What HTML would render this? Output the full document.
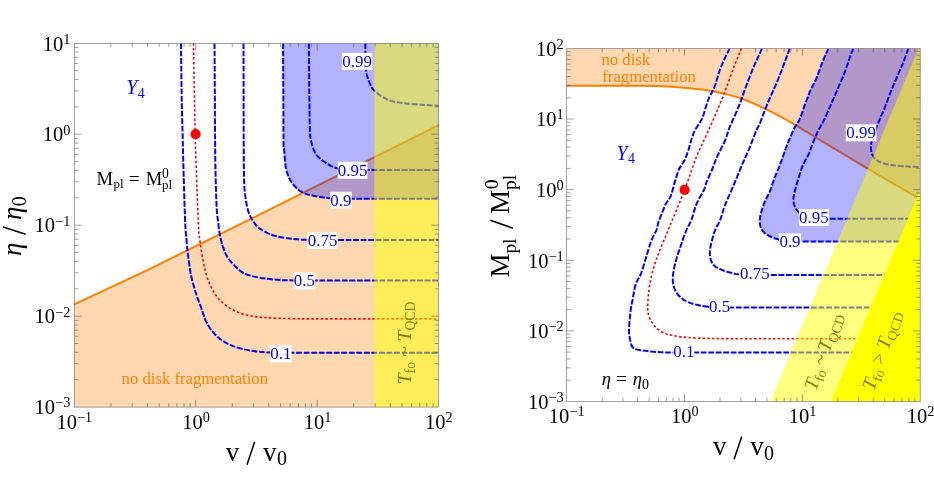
<!DOCTYPE html>
<html><head><meta charset="utf-8"><title>plot</title>
<style>html,body{margin:0;padding:0;background:#fff;}svg{display:block;will-change:transform;}text{font-family:"Liberation Serif",serif;}</style></head>
<body>
<svg width="934" height="487" viewBox="0 0 934 487" font-family="'Liberation Serif', serif" fill="#000">
<rect width="934" height="487" fill="#fff"/>
<clipPath id="cl"><rect x="74.3" y="43.3" width="364.3" height="363.8"/></clipPath>
<g clip-path="url(#cl)">
<path d="M74.3 304.4L150 268.8L260 214.3L438.6 125L438.6 407.1L74.3 407.1Z" fill="rgba(255,127,0,0.3)"/>
</g>
<path d="M73.8 304.6L150 268.8L260 214.3L439.1 124.8" fill="none" stroke="#ff7f00" stroke-width="2"/>
<g clip-path="url(#cl)">
<path d="M283.1 43.3C283.1 51.1 283.2 73.9 283.3 90C283.4 106.1 283.4 129.9 283.5 140C283.6 150.1 283.8 146 284.2 150.5C284.6 155 284.8 162.2 285.7 167C286.6 171.8 288.1 175.9 289.8 179.3C291.5 182.7 293.8 185.3 296 187.5C298.2 189.7 300.2 191.3 303.1 192.7C306 194.1 308.9 194.8 313.4 195.7C317.8 196.6 323.4 197.7 329.8 198.2C336.2 198.7 333.9 198.7 352 198.8C370.1 198.9 424.2 198.8 438.6 198.8L438.6 43.3Z" fill="rgba(0,0,255,0.3)"/>
<path d="M181 43.3C181.1 51.1 181.3 75.5 181.6 90C181.8 104.5 182.1 115 182.5 130C182.9 145 183.3 164.2 183.8 180C184.3 195.8 184.8 214.9 185.3 225C185.8 235.1 186.2 235.5 186.6 240.5C187 245.5 187.2 249.1 188 254.9C188.8 260.7 189.7 269 191.1 275.5C192.5 282 194.5 288.5 196.2 294C197.9 299.5 199.8 303.9 201.4 308.3C203 312.7 203.8 316.6 205.5 320.3C207.2 324 209.2 327.4 211.6 330.5C214 333.6 216.7 336.4 219.8 338.8C222.9 341.2 226.3 343.2 230.1 344.9C233.9 346.6 237.9 347.9 242.4 349C246.9 350.1 252.2 350.9 256.8 351.5C261.4 352.1 263 352.4 270.2 352.6C277.4 352.8 271.9 352.7 300 352.7C328.1 352.7 415.5 352.7 438.6 352.7" fill="none" stroke="#0000ff" stroke-width="2.0" stroke-dasharray="5.8 1.7"/>
<path d="M214.5 43.3C214.6 51.1 214.7 73.9 214.8 90C214.9 106.1 214.9 125 215.1 140C215.2 155 215.4 168.3 215.7 180C216 191.7 216.4 203 216.8 210C217.2 217 217.7 217.9 218.2 222C218.7 226.1 219 230.3 219.8 234.4C220.6 238.5 221.5 242.8 222.9 246.7C224.3 250.6 225.5 254.2 228.1 258C230.7 261.8 234.9 266.4 238.3 269.3C241.7 272.2 244.2 273.6 248.6 275.1C253 276.6 259.5 277.7 265 278.5C270.5 279.3 276.7 279.8 281.5 280.1C286.3 280.4 285.7 280.3 293.8 280.4C301.9 280.4 305.9 280.4 330 280.4C354.1 280.4 420.5 280.4 438.6 280.4" fill="none" stroke="#0000ff" stroke-width="2.0" stroke-dasharray="5.8 1.7"/>
<path d="M243.5 43.3C243.5 51.1 243.6 73.9 243.6 90C243.6 106.1 243.6 125 243.7 140C243.8 155 243.8 170.4 244.1 180C244.4 189.6 244.8 192.4 245.5 197.8C246.2 203.2 247.4 208.4 248.6 212.2C249.8 216 251.3 218.1 252.7 220.4C254.1 222.7 255.2 224.5 256.8 226.1C258.4 227.7 259.2 228.4 262 230C264.8 231.6 268.7 234 273.3 235.4C277.9 236.8 283.9 237.8 289.7 238.5C295.4 239.2 299.4 239.6 307.8 239.9C316.2 240.2 318.2 240.1 340 240.1C361.8 240.1 422.2 240.1 438.6 240.1" fill="none" stroke="#0000ff" stroke-width="2.0" stroke-dasharray="5.8 1.7"/>
<path d="M283.1 43.3C283.1 51.1 283.2 73.9 283.3 90C283.4 106.1 283.4 129.9 283.5 140C283.6 150.1 283.8 146 284.2 150.5C284.6 155 284.8 162.2 285.7 167C286.6 171.8 288.1 175.9 289.8 179.3C291.5 182.7 293.8 185.3 296 187.5C298.2 189.7 300.2 191.3 303.1 192.7C306 194.1 308.9 194.8 313.4 195.7C317.8 196.6 323.4 197.7 329.8 198.2C336.2 198.7 333.9 198.7 352 198.8C370.1 198.9 424.2 198.8 438.6 198.8" fill="none" stroke="#0000ff" stroke-width="2.0" stroke-dasharray="5.8 1.7"/>
<path d="M308.8 43.3C308.9 51.1 309.1 75.5 309.3 90C309.5 104.5 309.5 121.3 309.9 130C310.2 138.7 310.5 138.4 311.4 142.3C312.3 146.2 313.8 150.7 315.5 153.6C317.2 156.5 319.2 157.9 321.6 159.8C324 161.8 327.1 163.8 329.8 165.3C332.5 166.8 335 167.8 338 168.6C341 169.4 342.7 169.8 348 170.1C353.3 170.3 354.9 170.1 370 170.1C385.1 170.1 427.2 170.1 438.6 170.1" fill="none" stroke="#0000ff" stroke-width="2.0" stroke-dasharray="5.8 1.7"/>
<path d="M365.4 43.3C365.4 46.1 365.4 55.2 365.5 60C365.6 64.8 365.6 68.5 366.2 72C366.8 75.5 367.6 78 368.9 81.1C370.2 84.1 370.9 87.2 374 90.3C377.1 93.4 382.4 97.4 387.4 99.6C392.4 101.8 397.6 102.4 403.8 103.3C410 104.2 418.5 104.5 424.3 104.9C430.1 105.3 436.2 105.6 438.6 105.7" fill="none" stroke="#0000ff" stroke-width="2.0" stroke-dasharray="5.8 1.7"/>
<path d="M193.5 43.3C193.6 51.1 194 74.9 194.3 90C194.6 105.1 194.8 117.3 195.2 134C195.6 150.7 196.4 174 197 190C197.6 206 198.3 222 198.7 230C199.1 238 199.1 234.5 199.6 238C200.1 241.5 200.4 245.2 201.4 250.8C202.4 256.4 203.8 265.2 205.5 271.4C207.2 277.6 209.2 283 211.6 287.8C214 292.6 216.4 296.5 219.8 300.1C223.2 303.7 227.8 306.9 232.2 309.4C236.6 311.9 241 313.5 246.5 314.9C252 316.3 257.1 317 265 317.6C272.9 318.2 283 318.5 293.8 318.7C304.6 318.9 305.9 318.9 330 318.9C354.1 318.9 420.5 318.9 438.6 318.9" fill="none" stroke="#ff0000" stroke-width="1.6" stroke-dasharray="2.5 2.2"/>
<rect x="269.9" y="345.4" width="21.7" height="16.9" fill="#fff"/>
<text x="280.8" y="359.2" font-size="16.9" fill="#0000ff" text-anchor="middle">0.1</text>
<rect x="293.6" y="272.5" width="21.6" height="16.9" fill="#fff"/>
<text x="304.4" y="286.3" font-size="16.9" fill="#0000ff" text-anchor="middle">0.5</text>
<rect x="307.6" y="232" width="30" height="16.9" fill="#fff"/>
<text x="322.6" y="245.8" font-size="16.9" fill="#0000ff" text-anchor="middle">0.75</text>
<rect x="330.2" y="191.7" width="21.5" height="16.9" fill="#fff"/>
<text x="340.9" y="205.5" font-size="16.9" fill="#0000ff" text-anchor="middle">0.9</text>
<rect x="337.7" y="161.8" width="29.8" height="16.9" fill="#fff"/>
<text x="352.6" y="175.6" font-size="16.9" fill="#0000ff" text-anchor="middle">0.95</text>
<rect x="341.9" y="52.9" width="30.4" height="16.9" fill="#fff"/>
<text x="357.1" y="66.7" font-size="16.9" fill="#0000ff" text-anchor="middle">0.99</text>
<circle cx="195.6" cy="134.2" r="5.1" fill="#ff0000"/>
<rect x="374.3" y="43.3" width="63.5" height="363.8" fill="rgba(255,255,0,0.5)"/>
</g>
<path d="M110.9 407.1v-3.9M110.9 43.3v3.9M132.2 407.1v-3.9M132.2 43.3v3.9M147.4 407.1v-3.9M147.4 43.3v3.9M159.2 407.1v-3.9M159.2 43.3v3.9M168.8 407.1v-3.9M168.8 43.3v3.9M176.9 407.1v-3.9M176.9 43.3v3.9M184 407.1v-3.9M184 43.3v3.9M190.2 407.1v-3.9M190.2 43.3v3.9M195.7 407.1v-7.3M195.7 43.3v7.3M232.3 407.1v-3.9M232.3 43.3v3.9M253.7 407.1v-3.9M253.7 43.3v3.9M268.8 407.1v-3.9M268.8 43.3v3.9M280.6 407.1v-3.9M280.6 43.3v3.9M290.2 407.1v-3.9M290.2 43.3v3.9M298.4 407.1v-3.9M298.4 43.3v3.9M305.4 407.1v-3.9M305.4 43.3v3.9M311.6 407.1v-3.9M311.6 43.3v3.9M317.2 407.1v-7.3M317.2 43.3v7.3M353.7 407.1v-3.9M353.7 43.3v3.9M375.1 407.1v-3.9M375.1 43.3v3.9M390.3 407.1v-3.9M390.3 43.3v3.9M402 407.1v-3.9M402 43.3v3.9M411.7 407.1v-3.9M411.7 43.3v3.9M419.8 407.1v-3.9M419.8 43.3v3.9M426.8 407.1v-3.9M426.8 43.3v3.9M433 407.1v-3.9M433 43.3v3.9M74.3 379.7h3.9M438.6 379.7h-3.9M74.3 363.7h3.9M438.6 363.7h-3.9M74.3 352.3h3.9M438.6 352.3h-3.9M74.3 343.5h3.9M438.6 343.5h-3.9M74.3 336.3h3.9M438.6 336.3h-3.9M74.3 330.2h3.9M438.6 330.2h-3.9M74.3 325h3.9M438.6 325h-3.9M74.3 320.3h3.9M438.6 320.3h-3.9M74.3 316.2h7.3M438.6 316.2h-7.3M74.3 288.8h3.9M438.6 288.8h-3.9M74.3 272.8h3.9M438.6 272.8h-3.9M74.3 261.4h3.9M438.6 261.4h-3.9M74.3 252.6h3.9M438.6 252.6h-3.9M74.3 245.4h3.9M438.6 245.4h-3.9M74.3 239.3h3.9M438.6 239.3h-3.9M74.3 234h3.9M438.6 234h-3.9M74.3 229.4h3.9M438.6 229.4h-3.9M74.3 225.2h7.3M438.6 225.2h-7.3M74.3 197.8h3.9M438.6 197.8h-3.9M74.3 181.8h3.9M438.6 181.8h-3.9M74.3 170.4h3.9M438.6 170.4h-3.9M74.3 161.6h3.9M438.6 161.6h-3.9M74.3 154.4h3.9M438.6 154.4h-3.9M74.3 148.3h3.9M438.6 148.3h-3.9M74.3 143.1h3.9M438.6 143.1h-3.9M74.3 138.4h3.9M438.6 138.4h-3.9M74.3 134.2h7.3M438.6 134.2h-7.3M74.3 106.9h3.9M438.6 106.9h-3.9M74.3 90.9h3.9M438.6 90.9h-3.9M74.3 79.5h3.9M438.6 79.5h-3.9M74.3 70.7h3.9M438.6 70.7h-3.9M74.3 63.5h3.9M438.6 63.5h-3.9M74.3 57.4h3.9M438.6 57.4h-3.9M74.3 52.1h3.9M438.6 52.1h-3.9M74.3 47.5h3.9M438.6 47.5h-3.9" fill="none" stroke="#505050" stroke-width="0.55"/>
<rect x="74.3" y="43.3" width="364.3" height="363.8" fill="none" stroke="#707070" stroke-width="0.65"/>
<text x="74.3" y="428.7" text-anchor="middle" font-size="20.5">10<tspan font-size="14.3" dy="-6.9">−1</tspan></text>
<text x="196" y="428.7" text-anchor="middle" font-size="20.5">10<tspan font-size="14.3" dy="-6.9">0</tspan></text>
<text x="317.5" y="428.7" text-anchor="middle" font-size="20.5">10<tspan font-size="14.3" dy="-6.9">1</tspan></text>
<text x="438.9" y="428.7" text-anchor="middle" font-size="20.5">10<tspan font-size="14.3" dy="-6.9">2</tspan></text>
<text x="70.3" y="414.3" text-anchor="end" font-size="20.5">10<tspan font-size="14.3" dy="-6.9">−3</tspan></text>
<text x="70.3" y="323.4" text-anchor="end" font-size="20.5">10<tspan font-size="14.3" dy="-6.9">−2</tspan></text>
<text x="70.3" y="232.4" text-anchor="end" font-size="20.5">10<tspan font-size="14.3" dy="-6.9">−1</tspan></text>
<text x="70.3" y="141.4" text-anchor="end" font-size="20.5">10<tspan font-size="14.3" dy="-6.9">0</tspan></text>
<text x="70.3" y="50.5" text-anchor="end" font-size="20.5">10<tspan font-size="14.3" dy="-6.9">1</tspan></text>
<text x="126.2" y="94.4" font-size="20" font-style="italic" fill="#0000ff">Y<tspan font-size="14" font-style="normal" dy="3.3" dx="0.5">4</tspan></text>
<text y="184.9" font-size="18.6"><tspan x="96.5">M</tspan><tspan x="113.5" font-size="13" dy="3.5">pl</tspan><tspan x="128.8" dy="-3.5" font-size="19.5">=</tspan><tspan x="145.7">M</tspan><tspan x="162.1" font-size="13" dy="4.4">pl</tspan></text>
<text x="162.0" y="177.7" font-size="13.6">0</text>
<text x="121.6" y="384" font-size="16.7" fill="#ff7f00">no disk fragmentation</text>
<text transform="translate(411.4 384.2) rotate(-90)" font-size="19.6" font-style="italic" fill="#858000">T<tspan font-size="13.7" font-style="normal" dy="3.6">fo</tspan><tspan dy="-3.6"> ~ T</tspan><tspan font-size="13.7" font-style="normal" dy="3.6">QCD</tspan></text>
<text x="225.8" y="460.5" font-size="27">v</text>
<path d="M247 464.8L254.6 441.9" stroke="#000" stroke-width="1.5" fill="none"/>
<text x="263.1" y="460.5" font-size="27">v<tspan font-size="20" dy="4.6" dx="0.3">0</tspan></text>
<g transform="translate(21.4 225.6) rotate(-90)">
<text x="-30.4" y="0" font-size="27" font-style="italic">η</text>
<path d="M-8.6 4.3L-1.4 -18.3" stroke="#000" stroke-width="1.5" fill="none"/>
<text x="5.6" y="0" font-size="27" font-style="italic">η<tspan font-size="20" font-style="normal" dy="4.6" dx="0.3">0</tspan></text>
</g>
<clipPath id="cr"><rect x="566.7" y="48.4" width="353.5" height="353.1"/></clipPath>
<g clip-path="url(#cr)">
<path d="M566.2 85.7C573.5 85.7 597.7 85.7 610 85.7C622.3 85.7 630.4 85.7 640 85.8C649.6 85.9 659.7 86 667.5 86.4C675.3 86.8 680.5 87.4 686.7 88C693 88.6 698.8 89.1 705 90C711.2 90.9 717.5 92.1 723.7 93.6C729.9 95.1 735.4 96.3 742.2 98.8C749.1 101.3 757.9 105.4 764.8 108.6C771.6 111.8 777.4 114.9 783.3 118.1C789.2 121.3 794.7 124.6 800 127.8C805.3 130.9 808.3 133 815 137C821.7 141 831.3 146.8 840 152C848.7 157.2 858.1 162.9 867.3 168.3C876.5 173.7 886.1 179.4 895 184.6C903.9 189.8 916.4 197 920.7 199.5L921.2 48.4L565.7 48.4Z" fill="rgba(255,127,0,0.3)"/>
<path d="M566.2 85.7C573.5 85.7 597.7 85.7 610 85.7C622.3 85.7 630.4 85.7 640 85.8C649.6 85.9 659.7 86 667.5 86.4C675.3 86.8 680.5 87.4 686.7 88C693 88.6 698.8 89.1 705 90C711.2 90.9 717.5 92.1 723.7 93.6C729.9 95.1 735.4 96.3 742.2 98.8C749.1 101.3 757.9 105.4 764.8 108.6C771.6 111.8 777.4 114.9 783.3 118.1C789.2 121.3 794.7 124.6 800 127.8C805.3 130.9 808.3 133 815 137C821.7 141 831.3 146.8 840 152C848.7 157.2 858.1 162.9 867.3 168.3C876.5 173.7 886.1 179.4 895 184.6C903.9 189.8 916.4 197 920.7 199.5" fill="none" stroke="#ff7f00" stroke-width="2"/>
<path d="M828.5 48.4C827.5 50.6 824.7 56.6 822.7 61.5C820.7 66.4 818.6 73 816.5 78C814.4 83 812 86.6 810 91.4C808 96.2 805.9 102 804.2 106.7C802.5 111.4 801.2 116 799.6 119.5C798 123 796.1 124.7 794.5 127.8C792.9 130.9 791.2 135.2 790 138C788.8 140.8 788.5 141.1 787.2 144.6C785.9 148.1 783.4 155.3 782 159C780.6 162.7 780.4 163.6 779.1 167C777.8 170.4 775.5 175.2 774 179.3C772.5 183.4 771.3 187.8 769.8 191.6C768.2 195.4 766.1 198.5 764.7 201.9C763.3 205.3 762 209.2 761.2 212.2C760.4 215.2 759.9 217.5 759.8 220C759.7 222.5 759.8 224.9 760.6 227C761.4 229.1 762.7 231.1 764.5 232.8C766.3 234.5 768.8 235.9 771.2 237C773.6 238.1 775.8 238.9 778.9 239.6C782 240.3 785.6 240.9 790 241.2C794.4 241.5 783.3 241.4 805 241.4C826.7 241.4 901 241.4 920.2 241.4L920.2 48.4Z" fill="rgba(0,0,255,0.3)"/>
<path d="M729.8 48.4C729.1 49.7 727.4 52.7 725.7 56.4C724 60.1 721.5 65.7 719.6 70.8C717.7 75.9 716.3 82.4 714.4 87.2C712.5 92 710.2 94.8 708.3 99.6C706.4 104.4 704.5 112.2 703.1 116C701.7 119.8 701.5 119.8 700.1 122.2C698.7 124.6 696.3 127.6 694.9 130.4C693.5 133.2 692.7 135.7 691.6 139C690.5 142.3 689.5 146.9 688.3 150.5C687.1 154.1 685.7 157.7 684.2 160.8C682.7 163.9 680.6 165.6 679.1 169C677.6 172.4 676.4 177 675 181.4C673.6 185.8 672.4 191.9 670.9 195.7C669.4 199.5 667.2 200.9 665.7 204C664.2 207.1 662.8 211.2 661.6 214.2C660.4 217.2 659.4 219.4 658.5 222C657.6 224.6 657.7 226.9 656.5 230C655.3 233.1 653.1 236 651.4 240.5C649.7 245 647.9 251.5 646.2 257C644.5 262.5 642.8 268.9 641.1 273.4C639.4 277.8 637.3 279.6 635.9 283.7C634.5 287.8 633.8 293.2 632.9 298C632 302.8 631 306.9 630.4 312.4C629.8 317.9 629 326.2 629 330.8C629 335.4 629.6 337.2 630.2 340C630.9 342.8 631.1 345.9 632.9 347.6C634.7 349.3 637 349.6 641.1 350.3C645.2 351 652.1 351.6 657.5 352C662.9 352.4 666.2 352.5 673.3 352.6C680.4 352.7 658.9 352.6 700 352.6C741.1 352.6 883.5 352.6 920.2 352.6" fill="none" stroke="#0000ff" stroke-width="2.0" stroke-dasharray="5.8 1.7"/>
<path d="M762.1 48.4C761.2 50.4 758.5 56.1 756.5 60.5C754.5 64.9 752.4 69.8 750.4 74.9C748.4 80.1 746.1 86.3 744.2 91.4C742.3 96.5 741.2 100.6 739.1 105.7C737 110.8 733.6 118.2 731.9 122.2C730.1 126.2 729.7 127 728.6 130C727.5 133 727.2 135.6 725.3 140C723.4 144.4 719.3 151.9 717.1 156.7C714.9 161.5 714 164.9 712.3 169C710.6 173.1 708.2 178 706.8 181.4C705.4 184.8 705.8 185.8 704.1 189.6C702.4 193.4 698.6 198.9 696.5 204C694.4 209.1 693.1 215.6 691.4 220C689.7 224.4 688 226.2 686.3 230.3C684.6 234.4 682.6 240.2 681.1 244.7C679.6 249.1 678.3 252.6 677 257C675.7 261.4 674.2 267.3 673.5 271.4C672.8 275.5 672.6 278.5 672.9 281.6C673.1 284.7 673.8 287.2 675 289.8C676.2 292.4 677.9 294.9 680.1 297C682.3 299.1 685.2 300.8 688.3 302.2C691.4 303.6 695.1 304.4 698.6 305.2C702.1 306 704.3 306.4 709.5 306.8C714.7 307.2 694.9 307.3 730 307.4C765.1 307.5 888.5 307.4 920.2 307.4" fill="none" stroke="#0000ff" stroke-width="2.0" stroke-dasharray="5.8 1.7"/>
<path d="M789.8 48.4C789 50.4 787.1 55.7 785.3 60.5C783.5 65.3 781.3 71.5 779.1 77C776.9 82.5 774.2 88.3 772 93.4C769.8 98.5 767.9 102.7 765.8 107.8C763.7 112.9 761.1 120.5 759.6 124.2C758.1 127.9 758.2 126 756.5 130C754.8 134.1 751.4 143.4 749.3 148.5C747.2 153.6 745.2 157.7 743.8 160.8C742.4 163.9 742.8 162.9 741.1 167C739.4 171.1 736.2 179 733.5 185.5C730.8 192 726.9 200.2 724.7 206C722.5 211.8 721.8 215.9 720.2 220C718.6 224.1 716.4 226.9 715 230.3C713.6 233.7 712.9 237.1 712 240.5C711.1 243.9 710.1 247.5 709.9 250.8C709.7 254.1 710 257.5 710.9 260.1C711.8 262.7 712.9 264.5 715 266.2C717.1 267.9 720.2 269.3 723.3 270.5C726.4 271.7 730.6 272.7 733.5 273.4C736.4 274.1 734.6 274.2 740.7 274.5C746.8 274.8 740.1 274.8 770 274.9C799.9 275 895.2 274.9 920.2 274.9" fill="none" stroke="#0000ff" stroke-width="2.0" stroke-dasharray="5.8 1.7"/>
<path d="M828.5 48.4C827.5 50.6 824.7 56.6 822.7 61.5C820.7 66.4 818.6 73 816.5 78C814.4 83 812 86.6 810 91.4C808 96.2 805.9 102 804.2 106.7C802.5 111.4 801.2 116 799.6 119.5C798 123 796.1 124.7 794.5 127.8C792.9 130.9 791.2 135.2 790 138C788.8 140.8 788.5 141.1 787.2 144.6C785.9 148.1 783.4 155.3 782 159C780.6 162.7 780.4 163.6 779.1 167C777.8 170.4 775.5 175.2 774 179.3C772.5 183.4 771.3 187.8 769.8 191.6C768.2 195.4 766.1 198.5 764.7 201.9C763.3 205.3 762 209.2 761.2 212.2C760.4 215.2 759.9 217.5 759.8 220C759.7 222.5 759.8 224.9 760.6 227C761.4 229.1 762.7 231.1 764.5 232.8C766.3 234.5 768.8 235.9 771.2 237C773.6 238.1 775.8 238.9 778.9 239.6C782 240.3 785.6 240.9 790 241.2C794.4 241.5 783.3 241.4 805 241.4C826.7 241.4 901 241.4 920.2 241.4" fill="none" stroke="#0000ff" stroke-width="2.0" stroke-dasharray="5.8 1.7"/>
<path d="M853.3 48.4C852.5 50.4 850.4 56 848.8 60.5C847.2 65 845.4 70.7 843.5 75.5C841.6 80.3 839.5 84.6 837.5 89.3C835.5 94 833.5 98.6 831.3 103.7C829.1 108.8 826.2 115.7 824.1 120.1C822 124.5 820.3 126.4 818.5 130C816.7 133.6 815.1 137.5 813.5 141.5C811.9 145.5 810.6 149.7 808.8 153.8C807 157.9 804.3 161.9 802.6 166C800.9 170.1 799.8 174.2 798.5 178.3C797.2 182.4 795.9 186.9 795 190.5C794.1 194.1 793.4 197.2 793.4 200C793.4 202.8 794.2 205.5 795.2 207.6C796.2 209.7 797.5 211.3 799.3 212.8C801.1 214.3 803.2 215.8 806 216.8C808.8 217.8 812 218.3 816 218.6C820 218.9 812.6 218.7 830 218.7C847.4 218.7 905.2 218.7 920.2 218.7" fill="none" stroke="#0000ff" stroke-width="2.0" stroke-dasharray="5.8 1.7"/>
<path d="M908.3 48.4C907.4 50.8 905.1 57.8 903.2 62.6C901.3 67.4 899 72.2 897 77C895 81.8 892.9 86.2 890.9 91.3C888.9 96.4 886.8 102.7 884.7 107.8C882.7 112.9 880.4 117.6 878.6 122.1C876.8 126.6 875.2 131.6 874 135C872.8 138.4 871.9 140 871.4 142.6C870.9 145.2 870.7 148.2 871.2 150.8C871.7 153.4 872.6 155.9 874.5 158C876.4 160.1 879.3 161.9 882.7 163.1C886.1 164.3 890.8 164.8 895 165.4C899.2 166 903.8 166.2 908 166.5C912.2 166.8 918.2 167.1 920.2 167.2" fill="none" stroke="#0000ff" stroke-width="2.0" stroke-dasharray="5.8 1.7"/>
<path d="M741.6 48.4C740.3 51.5 736.6 59.9 734 66.7C731.4 73.5 728.5 82.1 725.7 89.3C723 96.5 720.1 103.6 717.5 109.8C714.9 116 711.9 122.6 710.3 126.3C708.7 130 710.1 126.9 707.8 132C705.5 137.1 700.4 147 696.5 156.7C692.6 166.4 689.2 178 684.6 190C680 202 671.9 220.9 668.8 228.6C665.6 236.3 667.2 232.3 665.7 236C664.2 239.7 661.5 245.9 659.6 250.8C657.7 255.7 656 260.1 654.4 265.2C652.8 270.3 651.3 276.5 650.3 281.6C649.3 286.7 648.7 291.6 648.3 296C647.9 300.4 647.7 305.3 647.7 308.3C647.7 311.3 647.9 312.1 648.3 314C648.7 315.9 649.3 317.6 650.3 319.5C651.3 321.4 652.5 323.6 654.4 325.7C656.3 327.8 658.7 330.2 661.6 331.8C664.5 333.4 667.8 334.4 671.9 335.3C676 336.2 680.5 336.9 686.3 337.4C692.1 337.9 697.8 338.2 706.8 338.4C715.8 338.6 704.4 338.6 740 338.7C775.6 338.8 890.2 338.7 920.2 338.7" fill="none" stroke="#ff0000" stroke-width="1.6" stroke-dasharray="2.5 2.2"/>
<rect x="673.3" y="343.2" width="21" height="16.9" fill="#fff"/>
<text x="683.8" y="357" font-size="16.9" fill="#0000ff" text-anchor="middle">0.1</text>
<rect x="709.1" y="297.7" width="21" height="16.9" fill="#fff"/>
<text x="719.6" y="311.5" font-size="16.9" fill="#0000ff" text-anchor="middle">0.5</text>
<rect x="739.9" y="265.6" width="29.9" height="16.9" fill="#fff"/>
<text x="754.9" y="279.4" font-size="16.9" fill="#0000ff" text-anchor="middle">0.75</text>
<rect x="779" y="233.5" width="22" height="16.9" fill="#fff"/>
<text x="790" y="247.3" font-size="16.9" fill="#0000ff" text-anchor="middle">0.9</text>
<rect x="798.9" y="209" width="30" height="16.9" fill="#fff"/>
<text x="813.9" y="222.8" font-size="16.9" fill="#0000ff" text-anchor="middle">0.95</text>
<rect x="845.8" y="124.4" width="30.5" height="16.9" fill="#fff"/>
<text x="861.1" y="138.2" font-size="16.9" fill="#0000ff" text-anchor="middle">0.99</text>
<circle cx="684.6" cy="189.9" r="5.1" fill="#ff0000"/>
<path d="M770.4 401.5L918.5 48.4L921.2 48.4L921.2 401.5Z" fill="rgba(255,255,0,0.5)"/>
<path d="M831.1 401.5L920.2 189.8L920.2 401.5Z" fill="#ffff00"/>
</g>
<path d="M602.2 401.5v-3.9M602.2 48.4v3.9M622.9 401.5v-3.9M622.9 48.4v3.9M637.6 401.5v-3.9M637.6 48.4v3.9M649.1 401.5v-3.9M649.1 48.4v3.9M658.4 401.5v-3.9M658.4 48.4v3.9M666.3 401.5v-3.9M666.3 48.4v3.9M673.1 401.5v-3.9M673.1 48.4v3.9M679.1 401.5v-3.9M679.1 48.4v3.9M684.5 401.5v-7.3M684.5 48.4v7.3M720 401.5v-3.9M720 48.4v3.9M740.8 401.5v-3.9M740.8 48.4v3.9M755.5 401.5v-3.9M755.5 48.4v3.9M766.9 401.5v-3.9M766.9 48.4v3.9M776.2 401.5v-3.9M776.2 48.4v3.9M784.1 401.5v-3.9M784.1 48.4v3.9M790.9 401.5v-3.9M790.9 48.4v3.9M797 401.5v-3.9M797 48.4v3.9M802.4 401.5v-7.3M802.4 48.4v7.3M837.8 401.5v-3.9M837.8 48.4v3.9M858.6 401.5v-3.9M858.6 48.4v3.9M873.3 401.5v-3.9M873.3 48.4v3.9M884.7 401.5v-3.9M884.7 48.4v3.9M894.1 401.5v-3.9M894.1 48.4v3.9M901.9 401.5v-3.9M901.9 48.4v3.9M908.8 401.5v-3.9M908.8 48.4v3.9M914.8 401.5v-3.9M914.8 48.4v3.9M566.7 380.2h3.9M920.2 380.2h-3.9M566.7 367.8h3.9M920.2 367.8h-3.9M566.7 359h3.9M920.2 359h-3.9M566.7 352.1h3.9M920.2 352.1h-3.9M566.7 346.5h3.9M920.2 346.5h-3.9M566.7 341.8h3.9M920.2 341.8h-3.9M566.7 337.7h3.9M920.2 337.7h-3.9M566.7 334.1h3.9M920.2 334.1h-3.9M566.7 330.9h7.3M920.2 330.9h-7.3M566.7 309.6h3.9M920.2 309.6h-3.9M566.7 297.2h3.9M920.2 297.2h-3.9M566.7 288.4h3.9M920.2 288.4h-3.9M566.7 281.5h3.9M920.2 281.5h-3.9M566.7 275.9h3.9M920.2 275.9h-3.9M566.7 271.2h3.9M920.2 271.2h-3.9M566.7 267.1h3.9M920.2 267.1h-3.9M566.7 263.5h3.9M920.2 263.5h-3.9M566.7 260.3h7.3M920.2 260.3h-7.3M566.7 239h3.9M920.2 239h-3.9M566.7 226.6h3.9M920.2 226.6h-3.9M566.7 217.7h3.9M920.2 217.7h-3.9M566.7 210.9h3.9M920.2 210.9h-3.9M566.7 205.3h3.9M920.2 205.3h-3.9M566.7 200.6h3.9M920.2 200.6h-3.9M566.7 196.5h3.9M920.2 196.5h-3.9M566.7 192.9h3.9M920.2 192.9h-3.9M566.7 189.6h7.3M920.2 189.6h-7.3M566.7 168.4h3.9M920.2 168.4h-3.9M566.7 155.9h3.9M920.2 155.9h-3.9M566.7 147.1h3.9M920.2 147.1h-3.9M566.7 140.3h3.9M920.2 140.3h-3.9M566.7 134.7h3.9M920.2 134.7h-3.9M566.7 130h3.9M920.2 130h-3.9M566.7 125.9h3.9M920.2 125.9h-3.9M566.7 122.3h3.9M920.2 122.3h-3.9M566.7 119h7.3M920.2 119h-7.3M566.7 97.8h3.9M920.2 97.8h-3.9M566.7 85.3h3.9M920.2 85.3h-3.9M566.7 76.5h3.9M920.2 76.5h-3.9M566.7 69.7h3.9M920.2 69.7h-3.9M566.7 64.1h3.9M920.2 64.1h-3.9M566.7 59.3h3.9M920.2 59.3h-3.9M566.7 55.2h3.9M920.2 55.2h-3.9M566.7 51.6h3.9M920.2 51.6h-3.9" fill="none" stroke="#505050" stroke-width="0.55"/>
<rect x="566.7" y="48.4" width="353.5" height="353.1" fill="none" stroke="#707070" stroke-width="0.65"/>
<text x="566.7" y="423.1" text-anchor="middle" font-size="20.5">10<tspan font-size="14.3" dy="-6.9">−1</tspan></text>
<text x="684.8" y="423.1" text-anchor="middle" font-size="20.5">10<tspan font-size="14.3" dy="-6.9">0</tspan></text>
<text x="802.7" y="423.1" text-anchor="middle" font-size="20.5">10<tspan font-size="14.3" dy="-6.9">1</tspan></text>
<text x="920.5" y="423.1" text-anchor="middle" font-size="20.5">10<tspan font-size="14.3" dy="-6.9">2</tspan></text>
<text x="563.6" y="408.8" text-anchor="end" font-size="20.5">10<tspan font-size="14.3" dy="-6.9">−3</tspan></text>
<text x="563.6" y="338.2" text-anchor="end" font-size="20.5">10<tspan font-size="14.3" dy="-6.9">−2</tspan></text>
<text x="563.6" y="267.6" text-anchor="end" font-size="20.5">10<tspan font-size="14.3" dy="-6.9">−1</tspan></text>
<text x="563.6" y="196.9" text-anchor="end" font-size="20.5">10<tspan font-size="14.3" dy="-6.9">0</tspan></text>
<text x="563.6" y="126.3" text-anchor="end" font-size="20.5">10<tspan font-size="14.3" dy="-6.9">1</tspan></text>
<text x="563.6" y="55.7" text-anchor="end" font-size="20.5">10<tspan font-size="14.3" dy="-6.9">2</tspan></text>
<text x="616.4" y="159.8" font-size="20" font-style="italic" fill="#0000ff">Y<tspan font-size="14" font-style="normal" dy="3.3" dx="0.5">4</tspan></text>
<text x="601.5" y="64.6" font-size="16.7" fill="#ff7f00">no disk</text>
<text x="602.3" y="82.1" font-size="16.7" fill="#ff7f00">fragmentation</text>
<text y="385.3" font-size="18.6" font-style="italic"><tspan x="601.8">η</tspan><tspan x="615.9" font-style="normal" font-size="19.5">=</tspan><tspan x="632.7">η</tspan><tspan x="641.9" font-size="14" font-style="normal" dy="3.7">0</tspan></text>
<text transform="translate(816.0 391.6) rotate(-71)" font-size="19.6" font-style="italic" fill="#858000">T<tspan font-size="13.7" font-style="normal" dy="3.6">fo</tspan><tspan dy="-3.6" dx="4.0">~</tspan><tspan dx="3.9">T</tspan><tspan font-size="13.7" font-style="normal" dy="3.6">QCD</tspan></text>
<text transform="translate(874.0 391.6) rotate(-71)" font-size="19.6" font-style="italic" fill="#808000">T<tspan font-size="13.7" font-style="normal" dy="3.6">fo</tspan><tspan dy="-3.6" dx="4.0">&gt;</tspan><tspan dx="3.9">T</tspan><tspan font-size="13.7" font-style="normal" dy="3.6">QCD</tspan></text>
<text x="712.9" y="455.0" font-size="27">v</text>
<path d="M734.1 459.3L741.7 436.4" stroke="#000" stroke-width="1.5" fill="none"/>
<text x="750.2" y="455.0" font-size="27">v<tspan font-size="20" dy="4.6" dx="0.3">0</tspan></text>
<g transform="translate(508.7 224.6) rotate(-90)">
<text x="-53.0" y="0" font-size="27">M<tspan font-size="19.3" dy="6.9">pl</tspan></text>
<path d="M-3.6 4.3L4.4 -18.3" stroke="#000" stroke-width="1.5" fill="none"/>
<text x="10.6" y="0" font-size="27">M<tspan font-size="19.3" dy="6.9">pl</tspan></text>
<text x="35.4" y="-11.0" font-size="19.8">0</text>
</g>
</svg>
</body></html>
